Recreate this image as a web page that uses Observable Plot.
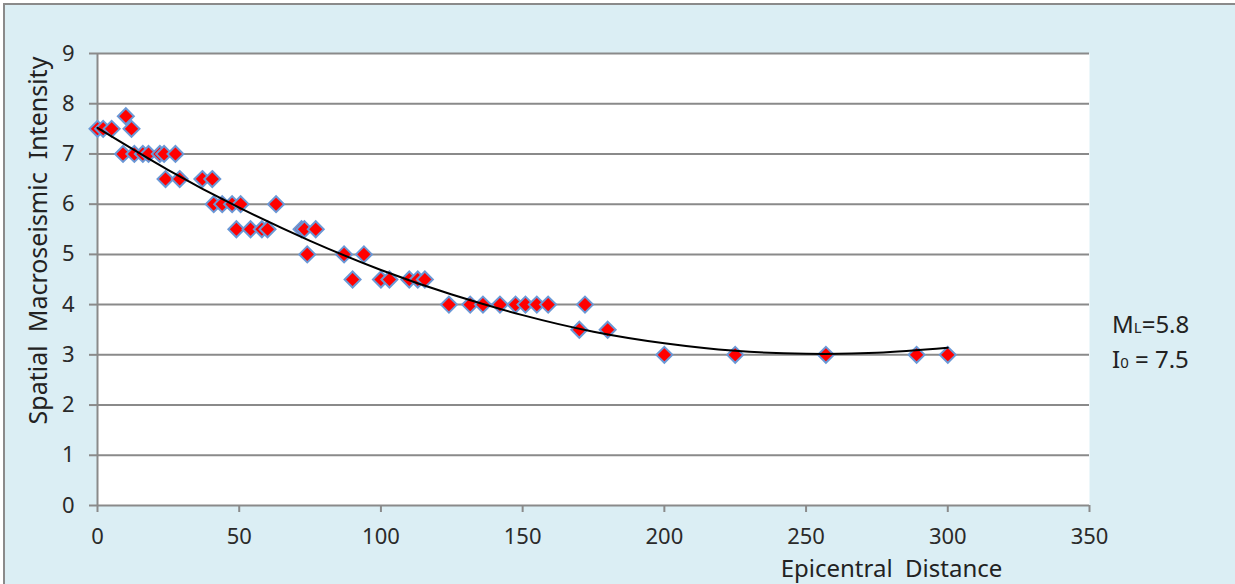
<!DOCTYPE html>
<html><head><meta charset="utf-8">
<script src="https://cdn.jsdelivr.net/npm/d3@7"></script>
<script src="https://cdn.jsdelivr.net/npm/@observablehq/plot@0.6"></script>
<style>
body{margin:0;background:#fff;}
#wrap{position:absolute;left:3px;top:3px;width:1232px;height:581px;border-top:2px solid #8a8a8a;border-left:2px solid #8a8a8a;background:#dbeef4;overflow:hidden}
#wrap svg text{white-space:pre}
</style></head><body><div id="wrap"></div>
<script>
const distance = [0,2,5,9,10,12,13,16,18,22,23.5,24,27.5,29,37,40.5,41,44,47.5,49,50.5,54,58,60,63,72,73,74,77,87,90,94,100,103,110,113,115.5,124,131.5,136,142,147.5,151,155,159,170,172,180,200,225,257,289,300];
const intensity = [7.5,7.5,7.5,7,7.75,7.5,7,7,7,7,7,6.5,7,6.5,6.5,6.5,6,6,6,5.5,6,5.5,5.5,5.5,6,5.5,5.5,5,5.5,5,4.5,5,4.5,4.5,4.5,4.5,4.5,4,4,4,4,4,4,4,4,3.5,4,3.5,3,3,3,3,3];
const trendDistance = [0,25,50,75,100,125,150,175,200,225,250,275,300];
const trendIntensity = [7.52,6.68,5.93,5.27,4.69,4.20,3.79,3.46,3.23,3.08,3.02,3.04,3.14];
const xTicks = [0,50,100,150,200,250,300,350];
const yTicks = [0,1,2,3,4,5,6,7,8,9];
const xTitle = "Epicentral  Distance";
const yTitle = "Spatial  Macroseismic  Intensity";

const points = distance.map((d, i) => ({d, v: intensity[i]}));
const trend = trendDistance.map((d, i) => ({d, v: trendIntensity[i]}));
const grey = "#8a8a8a";

const chart = Plot.plot({
  width: 1230, height: 579,
  marginLeft: 92, marginRight: 146, marginTop: 48, marginBottom: 79,
  style: {fontFamily: "'Noto Sans', sans-serif", fontSize: "22px", background: "transparent", overflow: "visible", color: "#333"},
  x: {domain: [0, 350]},
  y: {domain: [0, 9]},
  marks: [
    Plot.frame({fill: "white", stroke: null}),
    Plot.ruleY(yTicks, {stroke: grey, strokeWidth: 2}),
    Plot.ruleX([0], {y1: 0, y2: 9, stroke: grey, strokeWidth: 2}),
    Plot.axisY({ticks: yTicks, tickSize: 8, tickPadding: 15, label: null, stroke: grey, strokeWidth: 2, fill: "#2a2a2a"}),
    Plot.axisX({ticks: xTicks, tickSize: 7, tickPadding: 16, label: null, stroke: grey, strokeWidth: 2, fill: "#2a2a2a"}),
    Plot.dot(points, {x: "d", y: "v", symbol: "diamond2", r: 7.2, fill: "#ff0000", stroke: "#6a98d6", strokeWidth: 2}),
    Plot.line(trend, {x: "d", y: "v", curve: "natural", stroke: "black", strokeWidth: 2}),
    Plot.text([yTitle], {text: d => d, frameAnchor: "left", rotate: -90, dx: -59, dy: -39, textAnchor: "middle", lineAnchor: "middle", fontSize: 25, fill: "#222"}),
    Plot.text([xTitle], {text: d => d, frameAnchor: "bottom-left", dx: 794, dy: 71, textAnchor: "middle", lineAnchor: "bottom", fontSize: 24, fill: "#222"})
  ]
});
document.getElementById("wrap").appendChild(chart);

const svg = d3.select(chart);
const ann = svg.append("g").attr("font-family", "'Noto Sans', sans-serif").attr("fill", "#222").attr("font-size", 24).attr("text-anchor", "start");
const t1 = ann.append("text").attr("x", 1107).attr("y", 328);
t1.append("tspan").text("M");
t1.append("tspan").attr("font-size", 15).text("L");
t1.append("tspan").text("=5.8");
const t2 = ann.append("text").attr("x", 1107).attr("y", 363);
t2.append("tspan").text("I");
t2.append("tspan").attr("font-size", 15).text("0");
t2.append("tspan").text(" = 7.5");
</script>
</body></html>
